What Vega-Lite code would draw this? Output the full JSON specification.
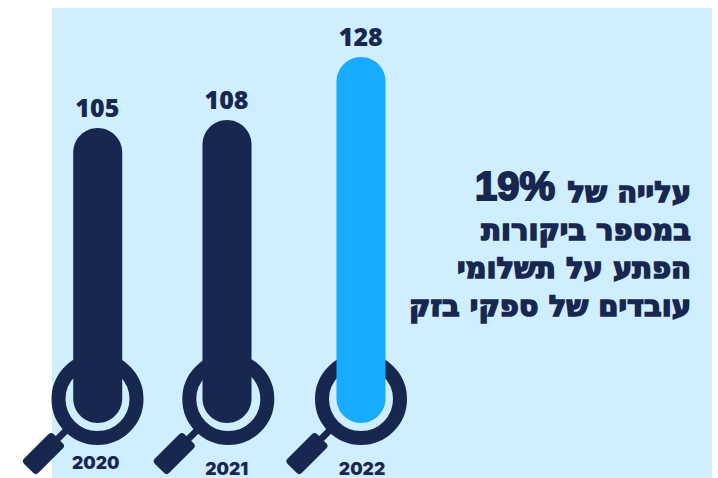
{
"$schema":"https://vega.github.io/schema/vega-lite/v6.json",
"width":660,"height":470,
"padding":{"left":52,"top":8,"right":6,"bottom":0},
"autosize":{"type":"none"},
"background":"#ffffff",
"view":{"fill":"#cfeeff","stroke":null},
"config":{"axis":{"disable":true}},
"datasets":{
"visits":[{"year":2020,"visits":105},{"year":2021,"visits":108},{"year":2022,"visits":128}],
"lines":[{"line":1,"text":"עלייה של"},{"line":2,"text":"במספר ביקורות"},{"line":3,"text":"הפתע על תשלומי"},{"line":4,"text":"עובדים של ספקי בזק"}],
"big":[{"text":"19%"}]
},
"resolve":{"scale":{"x":"independent","y":"independent"}},
"layer":[
{"data":{"name":"visits"},
 "mark":{"type":"point","shape":"circle","filled":false,"size":6084,"stroke":"#18274f","strokeWidth":14,"opacity":1},
 "encoding":{
  "x":{"field":"year","type":"quantitative","axis":null,"scale":{"domain":[2020,2021,2022],"range":[45.5,176.3,309]}},
  "y":{"datum":8.54,"type":"quantitative","axis":null,"scale":{"domain":[0,105,108,128],"range":[415,120,112,49]}}
 }},
{"data":{"name":"visits"},
 "mark":{"type":"point","shape":"M-0.868,0.702 L-0.692,0.878 Q-0.65,0.92 -0.692,0.962 L-1.168,1.438 Q-1.21,1.48 -1.252,1.438 L-1.428,1.262 Q-1.47,1.22 -1.428,1.178 L-0.952,0.702 Q-0.91,0.66 -0.868,0.702 Z M-0.564,0.636 L-0.764,0.836 L-0.836,0.764 L-0.636,0.564 Z","filled":true,"size":10400,"fill":"#18274f","opacity":1,"stroke":"#18274f","strokeWidth":1.5},
 "encoding":{
  "x":{"field":"year","type":"quantitative","axis":null,"scale":{"domain":[2020,2021,2022],"range":[45.5,176.3,309]}},
  "y":{"datum":8.54,"type":"quantitative","axis":null,"scale":{"domain":[0,105,108,128],"range":[415,120,112,49]}}
 }},
{"data":{"name":"visits"},
 "mark":{"type":"bar","orient":"vertical","width":49,"cornerRadius":24.5},
 "encoding":{
  "x":{"field":"year","type":"quantitative","axis":null,"scale":{"domain":[2020,2021,2022],"range":[45.7,175,309],"padding":0}},
  "y":{"field":"visits","type":"quantitative","axis":null,"scale":{"domain":[0,105,108,128],"range":[415,120,112,49]}},
  "y2":{"datum":0},
  "color":{"field":"year","type":"nominal","legend":null,"scale":{"domain":[2020,2021,2022],"range":["#18274f","#18274f","#17acff"]}}
 }},
{"data":{"name":"visits"},
 "mark":{"type":"text","dy":-19,"fontSize":25,"fontWeight":900,"font":"Noto Sans","fill":"#18274f","align":"center","baseline":"middle"},
 "encoding":{
  "x":{"field":"year","type":"quantitative","axis":null,"scale":{"domain":[2020,2021,2022],"range":[45.3,174.5,308.7]}},
  "y":{"field":"visits","type":"quantitative","axis":null,"scale":{"domain":[0,105,108,128],"range":[415,120,112,49]}},
  "text":{"field":"visits","type":"nominal"}
 }},
{"data":{"name":"visits"},
 "mark":{"type":"text","fontSize":17.5,"fontWeight":900,"font":"Inter","fill":"#18274f","align":"center","baseline":"middle"},
 "encoding":{
  "x":{"field":"year","type":"quantitative","axis":null,"scale":{"domain":[2020,2021,2022],"range":[43.7,174.7,310]}},
  "y":{"field":"year","type":"quantitative","axis":null,"scale":{"domain":[2020,2021,2022],"range":[455.5,461.5,461.5]}},
  "text":{"field":"year","type":"nominal"}
 }},
{"data":{"name":"lines"},
 "mark":{"type":"text","fontSize":29,"fontWeight":"bold","font":"DejaVu Sans","fill":"#18274f","stroke":"#18274f","strokeWidth":1.6,"align":"right","baseline":"middle"},
 "encoding":{
  "x":{"datum":1,"type":"quantitative","axis":null,"scale":{"domain":[0,1],"range":[0,639]}},
  "y":{"field":"line","type":"quantitative","axis":null,"scale":{"domain":[1,4],"range":[185,299]}},
  "text":{"field":"text","type":"nominal"}
 }},
{"data":{"name":"big"},
 "mark":{"type":"text","fontSize":40,"fontWeight":"bold","font":"Liberation Sans","fill":"#18274f","stroke":"#18274f","strokeWidth":2,"align":"right","baseline":"middle"},
 "encoding":{
  "x":{"datum":1,"type":"quantitative","axis":null,"scale":{"domain":[0,1],"range":[0,503]}},
  "y":{"datum":1,"type":"quantitative","axis":null,"scale":{"domain":[0,1],"range":[0,180]}},
  "text":{"field":"text","type":"nominal"}
 }}
]
}
